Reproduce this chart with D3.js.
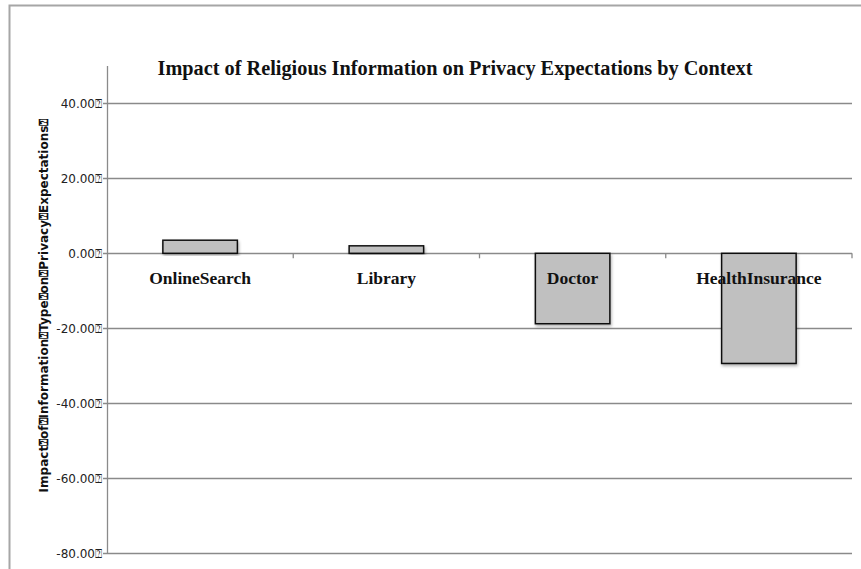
<!DOCTYPE html>
<html>
<head>
<meta charset="utf-8">
<script src="https://cdn.jsdelivr.net/npm/d3@7"></script>
<style>
  body { margin: 0; background: #fff; }
  svg { display: block; }
</style>
</head>
<body>
<svg id="chart"></svg>
<script>
// Data ***********************************************************************
const contexts = ["OnlineSearch", "Library", "Doctor", "HealthInsurance"];
const impactValues = [3.5, 2.0, -18.8, -29.4];
const yTicks = [40, 20, 0, -20, -40, -60, -80];
const box = "\u2370"; // missing-glyph box seen in the original labels

const width = 861, height = 569;
const margin = { top: 66, right: 9, bottom: 16, left: 107 };

const svg = d3.select("#chart")
    .attr("width", width)
    .attr("height", height);

// Outer frame (top and left border of the cropped chart object)
svg.append("path")
    .attr("d", `M9.5,${height} V5.5 H${width}`)
    .attr("fill", "none")
    .attr("stroke", "#a6a6a6")
    .attr("stroke-width", 2);

// Scales
const x = d3.scaleBand()
    .domain(contexts)
    .range([margin.left, width - margin.right]);

const y = d3.scaleLinear()
    .domain([-80, 50])
    .range([553, 66]);

// Gridlines
svg.append("g")
    .selectAll("line")
    .data(yTicks)
    .enter().append("line")
    .attr("x1", margin.left - 4)
    .attr("x2", width - margin.right)
    .attr("y1", d => Math.round(y(d)) + 0.5)
    .attr("y2", d => Math.round(y(d)) + 0.5)
    .attr("stroke", "#8a8a8a")
    .attr("stroke-width", 1.3);

// Y axis line
svg.append("line")
    .attr("x1", margin.left + 0.5)
    .attr("x2", margin.left + 0.5)
    .attr("y1", y(50))
    .attr("y2", y(-80))
    .attr("stroke", "#8a8a8a")
    .attr("stroke-width", 1.3);

// Y tick labels (plain hyphen for negatives, like the original)
svg.append("g")
    .selectAll("text")
    .data(yTicks)
    .enter().append("text")
    .attr("x", margin.left - 5)
    .attr("y", d => y(d) + 4.5)
    .attr("text-anchor", "end")
    .style("font-family", "'DejaVu Sans', Verdana, sans-serif")
    .style("font-size", "12px")
    .style("fill", "#222")
    .text(d => d.toFixed(2) + box);

// Category boundary ticks on the zero line
svg.append("g")
    .selectAll("line")
    .data(contexts.slice(1).concat(["end"]))
    .enter().append("line")
    .attr("x1", (d, i) => i < 3 ? x(d) : width - margin.right)
    .attr("x2", (d, i) => i < 3 ? x(d) : width - margin.right)
    .attr("y1", y(0))
    .attr("y2", y(0) + 5)
    .attr("stroke", "#8a8a8a")
    .attr("stroke-width", 1.3);

// Shadow filter for bars
const defs = svg.append("defs");
const filter = defs.append("filter").attr("id", "shadow")
    .attr("x", "-20%").attr("y", "-20%").attr("width", "140%").attr("height", "140%");
filter.append("feDropShadow")
    .attr("dx", 1).attr("dy", 2).attr("stdDeviation", 1.5)
    .attr("flood-color", "#000").attr("flood-opacity", 0.3);

// Bars
const barWidth = x.bandwidth() * 0.4;
svg.append("g")
    .selectAll("rect")
    .data(contexts)
    .enter().append("rect")
    .attr("x", d => x(d) + (x.bandwidth() - barWidth) / 2)
    .attr("y", (d, i) => y(Math.max(0, impactValues[i])))
    .attr("width", barWidth)
    .attr("height", (d, i) => Math.abs(y(impactValues[i]) - y(0)))
    .attr("fill", "#c0c0c0")
    .attr("stroke", "#111")
    .attr("stroke-width", 1.5)
    .attr("filter", "url(#shadow)");

// Category labels (drawn over the bars)
svg.append("g")
    .selectAll("text")
    .data(contexts)
    .enter().append("text")
    .attr("x", d => x(d) + x.bandwidth() / 2)
    .attr("y", y(0) + 31)
    .attr("text-anchor", "middle")
    .style("font-family", "'Liberation Serif', 'Times New Roman', serif")
    .style("font-weight", "bold")
    .style("font-size", "17.5px")
    .style("fill", "#111")
    .text(d => d);

// Title
svg.append("text")
    .attr("x", 455)
    .attr("y", 75)
    .attr("text-anchor", "middle")
    .style("font-family", "'Liberation Serif', 'Times New Roman', serif")
    .style("font-weight", "bold")
    .style("font-size", "20.3px")
    .style("fill", "#111")
    .text("Impact of Religious Information on Privacy Expectations by Context");

// Y axis title
svg.append("text")
    .attr("transform", `translate(48, ${(y(50) + y(-80)) / 2 - 4}) rotate(-90)`)
    .attr("text-anchor", "middle")
    .style("font-family", "'DejaVu Sans', Verdana, sans-serif")
    .style("font-weight", "bold")
    .style("font-size", "12px")
    .style("fill", "#111")
    .text(["Impact", "of", "Information", "Type", "on", "Privacy", "Expectations"].join(box) + box);
</script>
</body>
</html>
